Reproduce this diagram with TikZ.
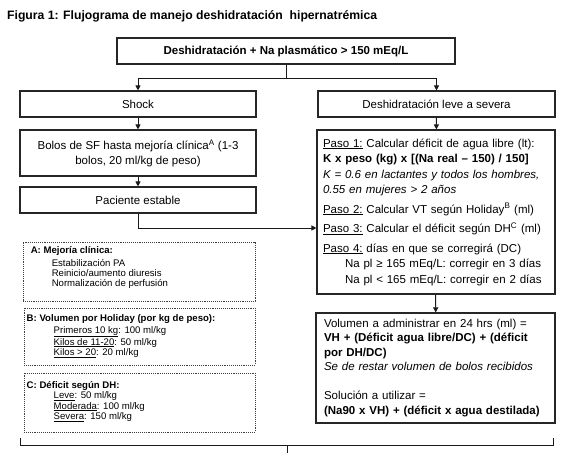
\documentclass[tikz,border=0pt]{standalone}
\usepackage{fontspec}
\setmainfont{Liberation Sans}
\usetikzlibrary{arrows.meta}
\begin{document}
\begin{tikzpicture}[x=1pt,y=-1pt,
  box/.style={draw=black!85, line width=1.1pt, inner sep=0pt, align=center,
    font=\fontsize{11.5}{14.5}\selectfont},
  leftbox/.style={box, align=left, inner xsep=6pt},
  notebox/.style={draw=black!75, densely dotted, line width=0.9pt, inner sep=0pt},
  notetext/.style={inner sep=0pt, anchor=north west, align=left,
    font=\fontsize{9.6}{10.4}\selectfont},
  link/.style={draw=black!90, line width=1pt},
  arr/.style={link, -{Triangle[length=5pt,width=5pt]}}
]
\useasboundingbox (0,0) rectangle (563,453);
\fill[white] (0,0) rectangle (563,453);

\node[anchor=west, inner sep=0pt, font=\fontsize{12.2}{14}\selectfont\bfseries] (title) at (7,16)
  {Figura 1: Flujograma de manejo deshidratación \ hipernatrémica};

\node[box, font=\fontsize{11.5}{14.5}\selectfont\bfseries, minimum width=338pt, minimum height=26pt] (top) at (286,51)
  {Deshidratación + Na plasmático > 150 mEq/L};

\node[box, minimum width=236pt, minimum height=26pt] (shock) at (138,104) {Shock};
\node[box, minimum width=237pt, minimum height=26pt] (sev) at (436.5,104) {Deshidratación leve a severa};

\node[box, minimum width=236pt, minimum height=46pt] (bolos) at (138,153)
  {Bolos de SF hasta mejoría clínica\textsuperscript{A} (1-3\\bolos, 20 ml/kg de peso)};
\node[box, minimum width=236pt, minimum height=26pt] (pac) at (138,200) {Paciente estable};

\node[leftbox, text width=226pt, minimum height=164pt, font=\fontsize{11.5}{15.5}\selectfont] (paso) at (436,212)
  {\underline{Paso 1:} Calcular déficit de agua libre (lt):\\
   \textbf{K x peso (kg) x [(Na real – 150) / 150]}\\
   \textit{K = 0.6 en lactantes y todos los hombres,}\\
   \textit{0.55 en mujeres > 2 años}\\[4pt]
   \underline{Paso 2:} Calcular VT según Holiday\textsuperscript{B} (ml)\\[4pt]
   \underline{Paso 3:} Calcular el déficit según DH\textsuperscript{C} (ml)\\[4pt]
   \underline{Paso 4:} días en que se corregirá (DC)\\
   \hspace*{22pt}Na pl ≥ 165 mEq/L: corregir en 3 días\\
   \hspace*{22pt}Na pl < 165 mEq/L: corregir en 2 días};

\node[leftbox, inner xsep=8pt, text width=223pt, minimum height=110pt] (vol) at (435.5,368)
  {Volumen a administrar en 24 hrs (ml) =\\
   \textbf{VH + (Déficit agua libre/DC) + (déficit}\\
   \textbf{por DH/DC)}\\
   \textit{Se de restar volumen de bolos recibidos}\\[14.5pt]
   Solución a utilizar =\\
   \textbf{(Na90 x VH) + (déficit x agua destilada)}};

\node[notebox, minimum width=232pt, minimum height=59pt] (aBox) at (139,271.5) {};
\node[notetext] (aText) at ([xshift=8pt,yshift=-5pt]aBox.north west)
  {\textbf{A: Mejoría clínica:}\\[2pt]
   \hspace*{21pt}Estabilización PA\\
   \hspace*{21pt}Reinicio/aumento diuresis\\
   \hspace*{21pt}Normalización de perfusión};

\node[notebox, minimum width=231pt, minimum height=57pt] (bBox) at (139.5,336.5) {};
\node[notetext] (bText) at ([xshift=3pt,yshift=-7pt]bBox.north west)
  {\textbf{B: Volumen por Holiday (por kg de peso):}\\[1pt]
   \hspace*{27pt}\underline{Primeros 10 kg}: 100 ml/kg\\
   \hspace*{27pt}\underline{Kilos de 11-20}: 50 ml/kg\\
   \hspace*{27pt}\underline{Kilos > 20}: 20 ml/kg};

\node[notebox, minimum width=231pt, minimum height=59pt] (cBox) at (139.5,402.5) {};
\node[notetext] (cText) at ([xshift=3pt,yshift=-8.5pt]cBox.north west)
  {\textbf{C: Déficit según DH:}\\
   \hspace*{27pt}\underline{Leve}: 50 ml/kg\\
   \hspace*{27pt}\underline{Moderada}: 100 ml/kg\\
   \hspace*{27pt}\underline{Severa}: 150 ml/kg};

% connectors
\coordinate (j) at (286,78);
\draw[link] (top.south) -- (j);
\draw[arr] (j) -| (shock.north);
\draw[arr] (j) -| (sev.north);
\draw[arr] (shock) -- (bolos);
\draw[arr] (bolos) -- (pac);
\coordinate (pin) at (paso.west |- 0,228);
\draw[arr] (pac.south) |- (pin);
\draw[arr] (sev) -- (paso);
\draw[arr] (paso) -- (vol);

% bottom bracket
\coordinate (bl) at (20,438);
\coordinate (br) at (553,438);
\coordinate (bm) at (287,445);
\draw[link] (bl) -- ++(0,7) -| (br);
\draw[link] (bm) -- ++(0,8);
\end{tikzpicture}
\end{document}
